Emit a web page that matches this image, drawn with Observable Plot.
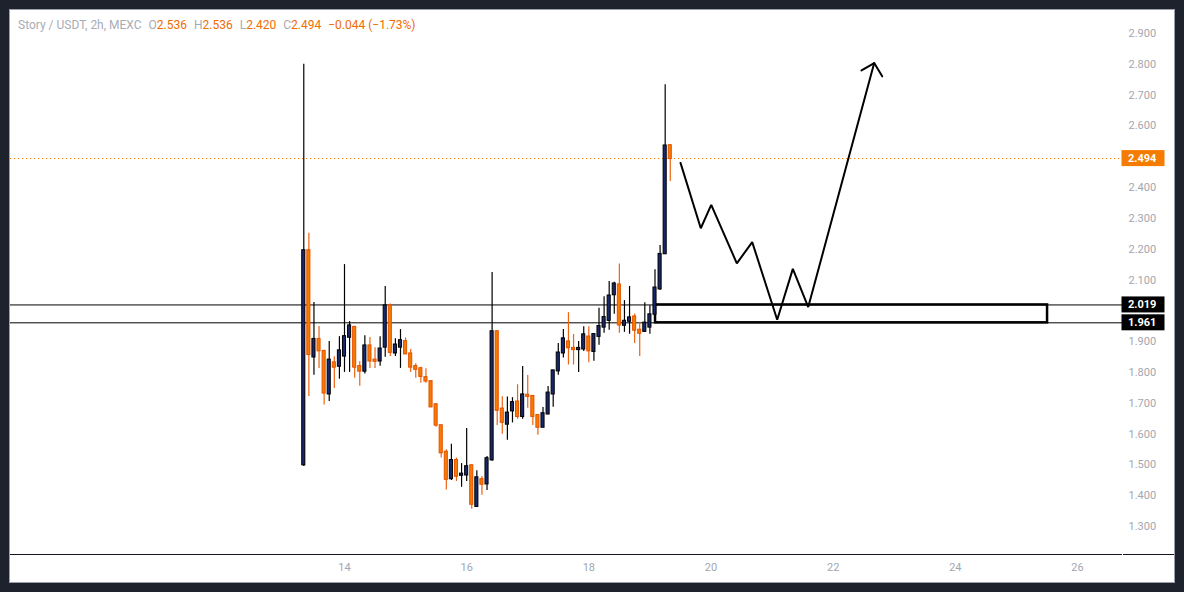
<!DOCTYPE html>
<html><head><meta charset="utf-8">
<script src="https://cdn.jsdelivr.net/npm/d3@7"></script>
<script src="https://cdn.jsdelivr.net/npm/@observablehq/plot@0.6"></script>
<style>
body{margin:0;background:#1e222d;width:1184px;height:592px;overflow:hidden;font-family:Roboto,"Noto Sans",sans-serif}
#panel{position:absolute;left:10px;top:10px;width:1164px;height:572px;background:#fff;outline:1px solid #9aa0ab}
#title{position:absolute;left:8px;top:8px;font-size:12px;color:#a9acb4;white-space:nowrap;z-index:2}
#title .v{color:#ef6c00}
#title .g{margin-left:7px}
#chart{position:absolute;left:0;top:0}
#axisline{position:absolute;left:1113px;top:544px;width:51px;height:1px;background:#131722}
</style></head>
<body>
<div id="panel">
  <div id="title">Story / USDT, 2h, MEXC<span class="g">O<span class="v">2.536</span></span><span class="g">H<span class="v">2.536</span></span><span class="g">L<span class="v">2.420</span></span><span class="g">C<span class="v">2.494</span></span><span class="g v">−0.044 (−1.73%)</span></div>
  <div id="chart"></div>
  <div id="axisline"></div>
</div>
<script>
// --- data (days of the month, Feb 2025; candles every 2h from the 13th 08:00) ---
const startDay = 13 + 8 / 24;
const stepDay = 2 / 24;
const open  = [1.50,2.195,1.850,1.907,1.868,1.730,1.831,1.820,1.853,1.914,1.946,1.819,1.804,1.886,1.840,1.837,1.882,2.016,1.863,1.882,1.900,1.860,1.819,1.812,1.783,1.770,1.695,1.627,1.541,1.455,1.514,1.466,1.467,1.497,1.365,1.452,1.438,1.516,1.932,1.681,1.632,1.675,1.704,1.657,1.726,1.722,1.660,1.622,1.665,1.730,1.805,1.863,1.899,1.878,1.874,1.876,1.915,1.868,1.917,1.947,1.969,2.052,2.084,1.953,1.966,1.980,1.937,1.933,1.947,1.989,2.071,2.185,2.536];
const high  = [2.80,2.252,2.027,1.949,1.872,1.900,1.851,1.916,2.150,1.965,1.950,1.835,1.919,1.913,1.880,1.916,2.079,2.022,1.909,1.939,1.912,1.874,1.828,1.817,1.812,1.773,1.697,1.628,1.549,1.567,1.522,1.504,1.618,1.500,1.481,1.462,1.527,2.124,1.935,1.721,1.720,1.718,1.760,1.819,1.790,1.725,1.662,1.686,1.754,1.807,1.894,1.939,1.994,1.923,1.900,1.948,1.948,1.926,2.008,2.046,2.095,2.093,2.152,2.033,2.079,1.990,1.963,2.026,2.016,2.133,2.212,2.734,2.536];
const low   = [1.495,1.722,1.791,1.813,1.694,1.706,1.748,1.778,1.800,1.800,1.781,1.755,1.795,1.813,1.813,1.820,1.849,1.852,1.852,1.813,1.858,1.800,1.781,1.765,1.765,1.686,1.622,1.522,1.418,1.449,1.446,1.427,1.446,1.356,1.362,1.401,1.417,1.512,1.628,1.599,1.580,1.636,1.648,1.648,1.684,1.628,1.596,1.620,1.663,1.687,1.791,1.847,1.824,1.824,1.800,1.868,1.831,1.836,1.888,1.927,1.937,1.989,1.927,1.930,1.924,1.894,1.852,1.930,1.924,1.985,2.066,2.183,2.420];
const close = [2.195,1.858,1.907,1.870,1.733,1.840,1.817,1.870,1.916,1.951,1.817,1.804,1.886,1.837,1.836,1.876,2.016,1.865,1.889,1.903,1.860,1.817,1.810,1.787,1.772,1.688,1.629,1.539,1.453,1.514,1.463,1.470,1.494,1.372,1.458,1.437,1.520,1.932,1.677,1.638,1.668,1.702,1.657,1.727,1.722,1.657,1.622,1.666,1.733,1.805,1.863,1.909,1.880,1.874,1.878,1.922,1.870,1.923,1.949,1.978,2.048,2.087,1.954,1.966,1.977,1.937,1.927,1.960,1.987,2.074,2.183,2.535,2.494];

const xTicks = [14, 16, 18, 20, 22, 24, 26];
// 2.000 and 2.500 are hidden behind the price labels in the reference
const yTicks = [1.3,1.4,1.5,1.6,1.7,1.8,1.9,2.1,2.2,2.3,2.4,2.6,2.7,2.8,2.9];
const xDomain = [8.532, 26.737];
const yDomain = [1.209, 2.9747];

const lastPrice = 2.494;
const levels = [2.019, 1.961];
const zoneDays = [19.092, 25.510];          // drawn rectangle (support zone)
const pathDays   = [19.501, 19.833, 20.004, 20.423, 20.675, 21.084, 21.340, 21.592, 22.672];
const pathPrices = [2.480, 2.268, 2.344, 2.154, 2.223, 1.971, 2.136, 2.012, 2.804];
const headDays   = [22.464, 22.672, 22.803];
const headPrices = [2.780, 2.804, 2.761];

// --- tables built from arrays ---
const candles = open.map((o, i) => ({
  t: startDay + i * stepDay, open: o, high: high[i], low: low[i], close: close[i], up: close[i] >= o
}));
const upC = candles.filter(d => d.up), downC = candles.filter(d => !d.up);
const path = pathDays.map((x, i) => ({x, y: pathPrices[i]}));
const head = headDays.map((x, i) => ({x, y: headPrices[i]}));
const zone = [{x1: zoneDays[0], x2: zoneDays[1], y1: levels[1], y2: levels[0]}];

const UP_FILL = "#18286c", UP_LINE = "#000000";
const DN_FILL = "#f57c00", DN_LINE = "#e65100", DN_WICK = "#ec6410";

const bodyOpts = (fill, stroke) => ({
  x1: d => d.t - stepDay / 2, x2: d => d.t + stepDay / 2, y1: "open", y2: "close",
  insetLeft: 1, insetRight: 1, insetTop: -0.5, insetBottom: -0.5,
  fill, stroke, strokeWidth: 1
});

const chart = Plot.plot({
  width: 1164, height: 572,
  marginLeft: 0, marginRight: 52, marginTop: 0, marginBottom: 28,
  x: {type: "linear", domain: xDomain},
  y: {domain: yDomain},
  style: {background: "transparent", fontFamily: "Roboto, 'Noto Sans', sans-serif", fontSize: "11px", overflow: "visible"},
  marks: [
    Plot.axisY(yTicks, {anchor: "right", tickSize: 0, tickPadding: 6, tickFormat: d => d.toFixed(3), fill: "#a3a6af", label: null}),
    Plot.axisX(xTicks, {anchor: "bottom", tickSize: 0, tickPadding: 9, tickFormat: d => String(d), fill: "#a3a6af", label: null}),
    Plot.ruleY([yDomain[0]], {stroke: "#131722", strokeWidth: 1}),
    Plot.ruleY([lastPrice], {stroke: "#f57c00", strokeWidth: 1, strokeDasharray: "1.3,2.7"}),
    Plot.ruleY(levels, {stroke: "#000", strokeWidth: 1}),
    Plot.rect(zone, {x1: "x1", x2: "x2", y1: "y1", y2: "y2", fill: "none", stroke: "#000", strokeWidth: 2.5}),
    Plot.ruleX(upC, {x: "t", y1: "low", y2: "high", stroke: UP_LINE, strokeWidth: 1.2}),
    Plot.ruleX(downC, {x: "t", y1: "low", y2: "high", stroke: DN_WICK, strokeWidth: 1.2}),
    Plot.rect(upC, bodyOpts(UP_FILL, UP_LINE)),
    Plot.rect(downC, bodyOpts(DN_FILL, DN_LINE)),
    Plot.line(path, {x: "x", y: "y", stroke: "#000", strokeWidth: 2, strokeLinejoin: "miter"}),
    Plot.line(head, {x: "x", y: "y", stroke: "#000", strokeWidth: 2, strokeLinejoin: "miter"})
  ]
});
document.getElementById("chart").appendChild(chart);

// price labels on the right axis, positioned with the chart's own y scale
const ys = chart.scale("y");
const priceLabels = [
  {v: lastPrice, bg: "#f57c00"},
  {v: levels[0], bg: "#000"},
  {v: levels[1], bg: "#000"}
];
const svg = d3.select(chart);
const g = svg.append("g").attr("text-anchor", "start");
priceLabels.forEach(p => {
  const y = ys.apply(p.v);
  g.append("rect").attr("x", 1111.5).attr("y", y - 8).attr("width", 43).attr("height", 16).attr("fill", p.bg);
  g.append("text").attr("x", 1118).attr("y", y).attr("dy", "0.36em").attr("text-anchor", "start")
    .attr("fill", "#fff").attr("font-weight", "bold").attr("font-size", 11).text(p.v.toFixed(3));
});
</script>
</body></html>
